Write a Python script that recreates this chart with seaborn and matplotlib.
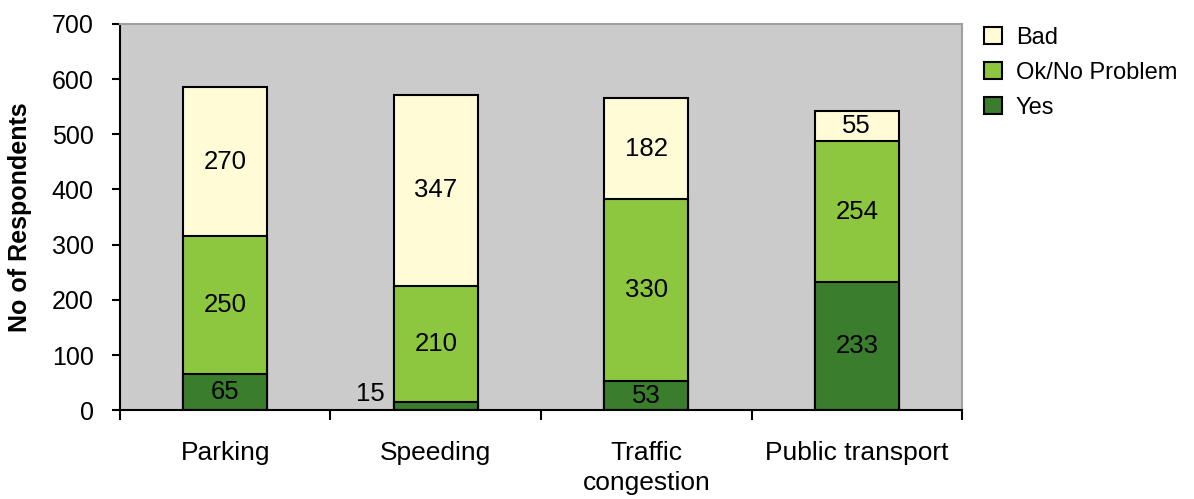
"""
Stacked bar chart of respondents' views on traffic issues.
"""

import matplotlib.pyplot as plt
import pandas as pd
import seaborn as sns
from matplotlib.patches import Patch

categories = ['Parking', 'Speeding', 'Traffic\ncongestion', 'Public transport']
yes_vals = [65, 15, 53, 233]
ok_vals = [250, 210, 330, 254]
bad_vals = [270, 347, 182, 55]

series_names = ['Bad', 'Ok/No Problem', 'Yes']
colors = {'Yes': '#3a7d2c', 'Ok/No Problem': '#8dc63f', 'Bad': '#fffbd6'}

df = pd.DataFrame({'category': categories, 'Yes': yes_vals,
                   'Ok/No Problem': ok_vals, 'Bad': bad_vals})
df['top_yes'] = df['Yes']
df['top_ok'] = df['Yes'] + df['Ok/No Problem']
df['top_bad'] = df['top_ok'] + df['Bad']

sns.set_style('white')
plt.rcParams['font.family'] = ['Liberation Sans', 'DejaVu Sans']
plt.rcParams['text.color'] = 'black'
plt.rcParams['xtick.color'] = 'black'
plt.rcParams['ytick.color'] = 'black'
plt.rcParams['axes.labelcolor'] = 'black'

fig = plt.figure(figsize=(11.94, 4.99), dpi=100)
ax = fig.add_axes([0.1005, 0.178, 0.7052, 0.774])
ax.set_facecolor('#cbcbcb')

# Draw cumulative totals from tallest to shortest so they stack visually
for col, name in [('top_bad', 'Bad'), ('top_ok', 'Ok/No Problem'), ('top_yes', 'Yes')]:
    sns.barplot(data=df, x='category', y=col, color=colors[name], width=0.4,
                edgecolor='black', linewidth=1.5, saturation=1, ax=ax)

# Segment labels
for i, row in df.iterrows():
    segs = [(0, row['Yes']), (row['top_yes'], row['Ok/No Problem']),
            (row['top_ok'], row['Bad'])]
    for bottom, val in segs:
        if val < 30:
            ax.text(i - 0.24, bottom + val / 2 + 22, f'{val}', ha='right', va='center',
                    fontsize=18.5)
        else:
            ax.text(i, bottom + val / 2, f'{val}', ha='center', va='center',
                    fontsize=18.5)

ax.set_xlim(-0.5, 3.5)
ax.set_ylim(0, 700)
ax.set_yticks(range(0, 701, 100))
ax.set_xticks(range(len(categories)))
ax.set_xticklabels(categories, linespacing=1.35)
ax.set_xticks([-0.5, 0.5, 1.5, 2.5, 3.5], minor=True)
ax.tick_params(axis='x', which='major', length=0, pad=22, labelsize=19)
ax.tick_params(axis='x', which='minor', length=7, width=1.5, direction='out', bottom=True)
ax.tick_params(axis='y', length=6, width=1.5, direction='out', left=True, labelsize=18,
               pad=13)
ax.set_xlabel('')
ax.set_ylabel('No of Respondents', fontsize=18, fontweight='bold')
ax.yaxis.set_label_coords(-0.104, 0.5)

for side in ['top', 'right']:
    ax.spines[side].set_color('#a0a0a0')
    ax.spines[side].set_linewidth(1.5)
for side in ['left', 'bottom']:
    ax.spines[side].set_color('black')
    ax.spines[side].set_linewidth(1.5)

handles = [Patch(facecolor=colors[n], edgecolor='black', linewidth=1.5, label=n)
           for n in series_names]
fig.legend(handles=handles, loc='upper left', bbox_to_anchor=(0.824, 0.946),
           frameon=False, fontsize=17, handlelength=0.75, handleheight=0.75,
           handletextpad=0.6, labelspacing=0.55, borderaxespad=0, borderpad=0)

fig.savefig('out.png', dpi=100)
plt.close(fig)
